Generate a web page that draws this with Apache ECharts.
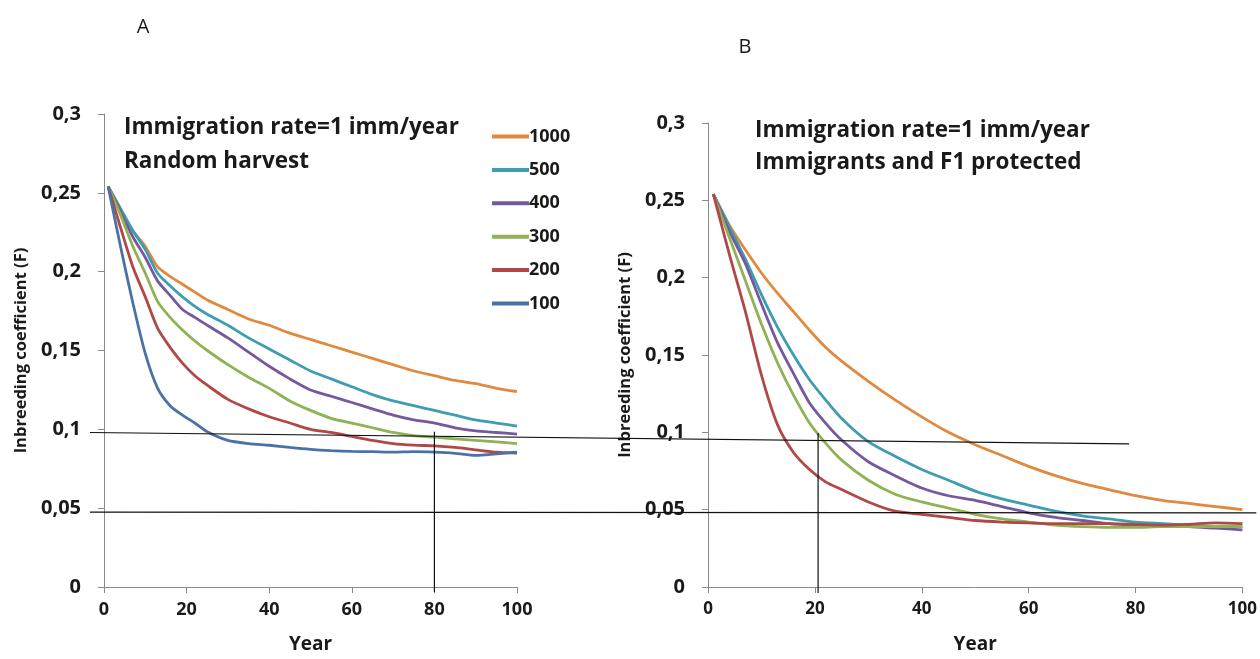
<!DOCTYPE html>
<html><head><meta charset="utf-8">
<script src="https://cdn.jsdelivr.net/npm/echarts@6/dist/echarts.min.js"></script>
<style>html,body{margin:0;padding:0;background:#fff}#c{width:1260px;height:659px}</style>
</head><body><div id="c"></div>
<script>
// ---- data ----
const years = [1,4,7,10,13,16,19,22,25,30,35,40,45,50,55,60,65,70,75,80,85,90,95,100];
const seriesNames = ['1000','500','400','300','200','100'];
const seriesColors = ['#E08A3F','#3F9DB2','#75599E','#8FB254','#B04848','#4A72A8'];

// Panel A: Random harvest
const a1000 = [.254,.240,.226,.216,.203,.197,.192,.187,.182,.176,.170,.166,.161,.157,.153,.149,.145,.141,.137,.134,.131,.129,.126,.124];
const a500  = [.254,.240,.226,.214,.199,.191,.184,.178,.173,.166,.158,.151,.144,.137,.132,.127,.122,.118,.115,.112,.109,.106,.104,.102];
const a400  = [.254,.238,.222,.209,.194,.185,.176,.171,.166,.158,.149,.140,.132,.125,.121,.117,.113,.109,.106,.104,.101,.099,.098,.097];
const a300  = [.254,.236,.216,.199,.181,.171,.163,.156,.150,.141,.133,.126,.118,.112,.107,.104,.101,.098,.096,.095,.094,.093,.092,.091];
const a200  = [.254,.228,.203,.184,.164,.152,.142,.134,.128,.119,.113,.108,.104,.100,.098,.0955,.093,.091,.090,.0895,.0885,.087,.0855,.085];
const a100  = [.254,.216,.180,.148,.126,.115,.109,.104,.0985,.093,.091,.0899,.0885,.0873,.0865,.086,.0858,.0855,.0858,.0855,.0848,.0835,.0845,.0855];

// Panel B: Immigrants and F1 protected
const b1000 = [.254,.234,.218,.203,.190,.178,.166,.155,.146,.133,.121,.110,.100,.092,.085,.078,.072,.067,.063,.059,.056,.054,.052,.050];
const b500  = [.254,.233,.212,.189,.168,.150,.134,.121,.109,.094,.0845,.076,.069,.062,.057,.053,.049,.046,.044,.042,.041,.040,.039,.039];
const b400  = [.254,.230,.209,.183,.158,.138,.119,.106,.095,.081,.072,.064,.059,.056,.052,.048,.045,.043,.041,.040,.0395,.039,.038,.037];
const b300  = [.254,.226,.198,.170,.145,.124,.106,.093,.082,.069,.060,.055,.051,.047,.044,.042,.040,.039,.0385,.0385,.039,.039,.039,.039];
const b200  = [.254,.215,.178,.137,.105,.087,.076,.068,.063,.055,.049,.047,.045,.043,.042,.0414,.041,.041,.041,.0405,.040,.0405,.0415,.041];

const panelA = [a1000,a500,a400,a300,a200,a100];
const panelB = [b1000,b500,b400,b300,b200];

const panelLetters = ['A','B'];
const notesA = ['Immigration rate=1 imm/year','Random harvest'];
const notesB = ['Immigration rate=1 imm/year','Immigrants and F1 protected'];
const yName = 'Inbreeding coefficient (F)';
const xName = 'Year';

// guide lines in data coordinates: [gridIndex, x, y]
const guideLines = [
  {from:[0,-3.4,0.098],  to:[1,78.8,0.0925]},
  {from:[0,-3.4,0.0475], to:[1,102.6,0.0479]},
  {from:[0,80,0.0985],   to:[0,80,-0.0032]},
  {from:[1,20.6,0.0996], to:[1,20.6,-0.0038]}
];

// ---- chart ----
const FONT = 'Open Sans';
const fmt = v => String(Math.round(v*100)/100).replace('.', ',');
function xAxis(gi, fs){
  return {type:'value', gridIndex:gi, min:0, max:100, interval:20,
    name:xName, nameLocation:'middle', nameGap:48,
    nameTextStyle:{fontFamily:FONT, fontWeight:'bold', fontSize:19, color:'#1a1a1a'},
    axisLine:{lineStyle:{color:'#8a8a8a', width:1}},
    axisTick:{show:true, length:6, lineStyle:{color:'#8a8a8a'}},
    axisLabel:{fontFamily:FONT, fontWeight:'bold', fontSize:fs, color:'#1a1a1a', margin:14},
    splitLine:{show:false}};
}
function yAxis(gi){
  return {type:'value', gridIndex:gi, min:0, max:0.3, interval:0.05,
    name:yName, nameLocation:'middle', nameGap:74,
    nameTextStyle:{fontFamily:FONT, fontWeight:'bold', fontSize:16.5, color:'#1a1a1a'},
    axisLine:{show:true, lineStyle:{color:'#8a8a8a', width:1}},
    axisTick:{show:true, length:6, lineStyle:{color:'#8a8a8a'}},
    axisLabel:{fontFamily:FONT, fontWeight:'bold', fontSize:20, color:'#1a1a1a', margin:23, formatter:fmt},
    splitLine:{show:false}};
}
const series = [];
panelA.forEach((arr,i)=>series.push({name:seriesNames[i], type:'line', xAxisIndex:0, yAxisIndex:0,
  data:years.map((x,k)=>[x,arr[k]]), showSymbol:false, smooth:0.25,
  lineStyle:{width:2.8, color:seriesColors[i]}, itemStyle:{color:seriesColors[i]}, z:2}));
panelB.forEach((arr,i)=>series.push({name:seriesNames[i], type:'line', xAxisIndex:1, yAxisIndex:1,
  data:years.map((x,k)=>[x,arr[k]]), showSymbol:false, smooth:0.25,
  lineStyle:{width:2.8, color:seriesColors[i]}, itemStyle:{color:seriesColors[i]}, z:2}));

function txt(x,y,t,size,weight,align){
  return {type:'text', x:x, y:y, z:10,
    style:{text:t, fontFamily:FONT, fontSize:size, fontWeight:weight, fill:'#1a1a1a',
      textAlign:align||'left', textVerticalAlign:'middle'}};
}
const chart = echarts.init(document.getElementById('c'), null, {renderer:'canvas'});
chart.setOption({
  animation:false,
  backgroundColor:'#ffffff',
  grid:[{left:104, top:114, width:413, height:474},{left:708, top:123, width:539, height:464}],
  xAxis:[xAxis(0,18), xAxis(1,17)],
  yAxis:[yAxis(0), yAxis(1)],
  legend:{data:seriesNames, orient:'vertical', left:487, top:121, icon:'rect',
    itemWidth:37, itemHeight:4, itemGap:12.4,
    textStyle:{fontFamily:FONT, fontWeight:'bold', fontSize:18, color:'#1a1a1a', lineHeight:21, padding:[0,0,0,-5]},
    selectedMode:false},
  series:series
});
const g = [
  txt(143,27,panelLetters[0],20,'normal','center'),
  txt(745,47,panelLetters[1],20,'normal','center'),
  txt(124,128,notesA[0],22.5,'bold'),
  txt(124,162,notesA[1],22.5,'bold'),
  txt(755,131,notesB[0],22.5,'bold'),
  txt(755,163,notesB[1],22.5,'bold')
];
guideLines.forEach(l=>{
  const p1 = chart.convertToPixel({gridIndex:l.from[0]}, [l.from[1], l.from[2]]);
  const p2 = chart.convertToPixel({gridIndex:l.to[0]}, [l.to[1], l.to[2]]);
  g.push({type:'line', z:20, shape:{x1:p1[0], y1:p1[1], x2:p2[0], y2:p2[1]},
    style:{stroke:'#111', lineWidth:1.2}});
});
chart.setOption({graphic:g});
</script></body></html>
